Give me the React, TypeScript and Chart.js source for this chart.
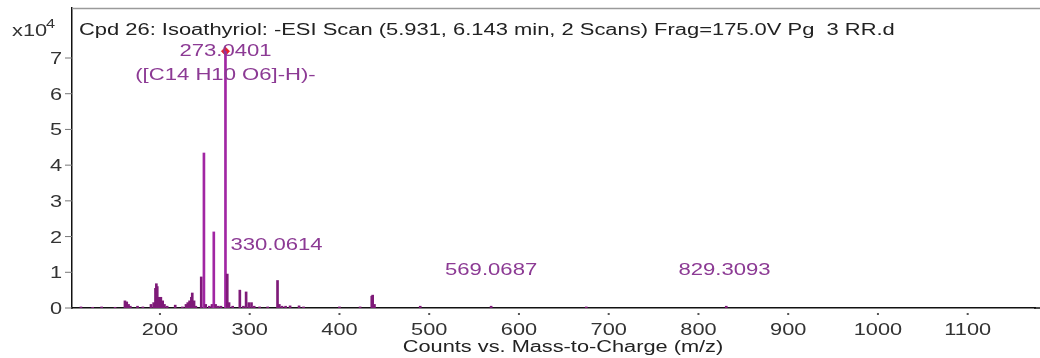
import React, { useEffect, useRef } from "react";
import { Chart, registerables } from "chart.js";

Chart.register(...registerables);

// m/z values of the peaks
const mzValues: number[] = [
  112, 125, 135, 150,
  161, 163, 165, 167,
  175, 181, 190, 193, 195, 196, 197, 199, 201, 203, 205, 208,
  217, 225,
  229, 231, 233, 235, 236, 238, 240,
  246, 249, 251, 255, 258, 260, 262, 265, 268,
  273, 275, 277, 281,
  289, 293, 296, 299, 302, 305, 311, 320,
  331, 333, 336, 340, 345, 355, 360,
  400, 423, 436, 437, 439,
  490, 569, 675, 831,
];
// intensities (x10^4 counts)
const intensities: number[] = [
  0.03, 0.02, 0.03, 0.02,
  0.2, 0.17, 0.1, 0.05,
  0.05, 0.03, 0.1, 0.15, 0.55, 0.68, 0.6, 0.3, 0.3, 0.2, 0.1, 0.05,
  0.08, 0.03,
  0.1, 0.15, 0.2, 0.3, 0.42, 0.2, 0.05,
  0.87, 4.34, 0.1, 0.05, 0.1, 2.13, 0.1, 0.05, 0.05,
  7.19, 0.95, 0.15, 0.05,
  0.5, 0.05, 0.45, 0.15, 0.15, 0.05, 0.03, 0.03,
  0.77, 0.1, 0.05, 0.05, 0.06, 0.06, 0.03,
  0.03, 0.03, 0.33, 0.36, 0.1,
  0.05, 0.05, 0.03, 0.05,
];

const xTicks: number[] = [200, 300, 400, 500, 600, 700, 800, 900, 1000, 1100];
const yTicks: number[] = [0, 1, 2, 3, 4, 5, 6, 7];

const precursorMz = 273;
const precursorIntensity = 7.19;

const titleText =
  "Cpd 26: Isoathyriol: -ESI Scan (5.931, 6.143 min, 2 Scans) Frag=175.0V Pg  3 RR.d";
const xAxisTitle = "Counts vs. Mass-to-Charge (m/z)";

// peak annotations: text, anchor m/z, baseline (in intensity units), alignment
const annotationTexts: string[] = ["273.0401", "([C14 H10 O6]-H)-", "330.0614", "569.0687", "829.3093"];
const annotationMz: number[] = [273, 273, 278.5, 569, 829];
const annotationY: number[] = [7.06, 6.39, 1.62, 0.92, 0.92];
const annotationAlign: string[] = ["center", "center", "left", "center", "center"];

const FONT = '"Liberation Sans", Arial, sans-serif';
const SX = 1.36;

function drawText(
  ctx: CanvasRenderingContext2D,
  text: string,
  x: number,
  y: number,
  align: string,
  size: number,
  color: string,
  sx: number = SX
) {
  ctx.save();
  ctx.font = `${size}px ${FONT}`;
  ctx.fillStyle = color;
  const w = ctx.measureText(text).width * sx;
  const left = align === "center" ? x - w / 2 : align === "right" ? x - w : x;
  ctx.translate(left, y);
  ctx.scale(sx, 1);
  ctx.textAlign = "left";
  ctx.textBaseline = "alphabetic";
  ctx.fillText(text, 0, 0);
  ctx.restore();
}

const decorPlugin = {
  id: "decor",
  afterDraw(chart: any) {
    const ctx: CanvasRenderingContext2D = chart.ctx;
    const xs = chart.scales.x;
    const ys = chart.scales.y;
    const area = chart.chartArea;

    ctx.save();
    // top frame line
    ctx.strokeStyle = "#9a9a9a";
    ctx.lineWidth = 1.5;
    ctx.beginPath();
    ctx.moveTo(area.left, area.top + 0.5);
    ctx.lineTo(1040, area.top + 0.5);
    ctx.stroke();
    // bottom axis continues to the edge
    ctx.strokeStyle = "#111";
    ctx.beginPath();
    ctx.moveTo(area.right - 1, area.bottom);
    ctx.lineTo(1040, area.bottom);
    ctx.stroke();

    // y ticks
    ctx.strokeStyle = "#777";
    ctx.lineWidth = 1;
    yTicks.forEach((v) => {
      const py = ys.getPixelForValue(v);
      ctx.beginPath();
      ctx.moveTo(area.left - 7, py);
      ctx.lineTo(area.left, py);
      ctx.stroke();
      drawText(ctx, String(v), area.left - 10, py + 6, "right", 16, "#333");
    });

    // x ticks
    ctx.fillStyle = "#555";
    xTicks.forEach((v) => {
      const px = xs.getPixelForValue(v);
      ctx.fillRect(px - 1, area.bottom + 5, 2, 2);
      drawText(ctx, String(v), px, area.bottom + 27, "center", 16, "#333");
    });
    ctx.restore();

    // multiplier
    drawText(ctx, "x10", 12, 36, "left", 16, "#333");
    drawText(ctx, "4", 46, 28, "left", 12, "#333");

    // title
    drawText(ctx, titleText, area.left + 7, 35, "left", 16, "#222", 1.37);

    // axis title
    drawText(ctx, xAxisTitle, 563, 352, "center", 16, "#222");

    // annotations
    annotationTexts.forEach((t, i) => {
      drawText(
        ctx,
        t,
        xs.getPixelForValue(annotationMz[i]),
        ys.getPixelForValue(annotationY[i]),
        annotationAlign[i],
        17,
        "#8c3a94",
        1.3
      );
    });
  },
};

export default function App() {
  const canvasRef = useRef<HTMLCanvasElement | null>(null);

  useEffect(() => {
    document.body.style.margin = "0";
    const canvas = canvasRef.current;
    if (!canvas) return;
    const chart = new Chart(canvas, {
      type: "bar",
      data: {
        datasets: [
          {
            type: "bar",
            data: mzValues.map((m, i) => ({ x: m, y: intensities[i] })),
            backgroundColor: (c: any) => {
              const v = c.raw ? c.raw.y : 0;
              return v > 1 ? "#a126a3" : "#7e1a78";
            },
            barThickness: 2,
            borderWidth: 0,
          } as any,
          {
            type: "scatter",
            data: [{ x: precursorMz, y: precursorIntensity }],
            pointStyle: "rectRot",
            pointRadius: 4,
            backgroundColor: "#e8202a",
            borderColor: "#e8202a",
          } as any,
        ],
      },
      options: {
        animation: false,
        responsive: false,
        maintainAspectRatio: false,
        layout: { padding: { top: 8, right: 0, left: 0, bottom: 0 } },
        plugins: {
          legend: { display: false },
          tooltip: { enabled: false },
          title: { display: false },
        },
        scales: {
          x: {
            type: "linear",
            offset: false,
            min: 102,
            max: 1175,
            grid: { display: false, offset: false },
            border: { display: true, color: "#111", width: 1.5 },
            ticks: { display: false },
            afterFit: (s: any) => {
              s.height = 50;
            },
          },
          y: {
            type: "linear",
            min: 0,
            max: 8.4,
            grid: { display: false },
            border: { display: true, color: "#111", width: 1.5 },
            ticks: { display: false },
            afterFit: (s: any) => {
              s.width = 72;
            },
          },
        },
      } as any,
      plugins: [decorPlugin],
    });
    return () => chart.destroy();
  }, []);

  return (
    <div style={{ width: 1040, height: 358, background: "#fff" }}>
      <canvas ref={canvasRef} width={1040} height={358} style={{ display: "block" }} />
    </div>
  );
}
